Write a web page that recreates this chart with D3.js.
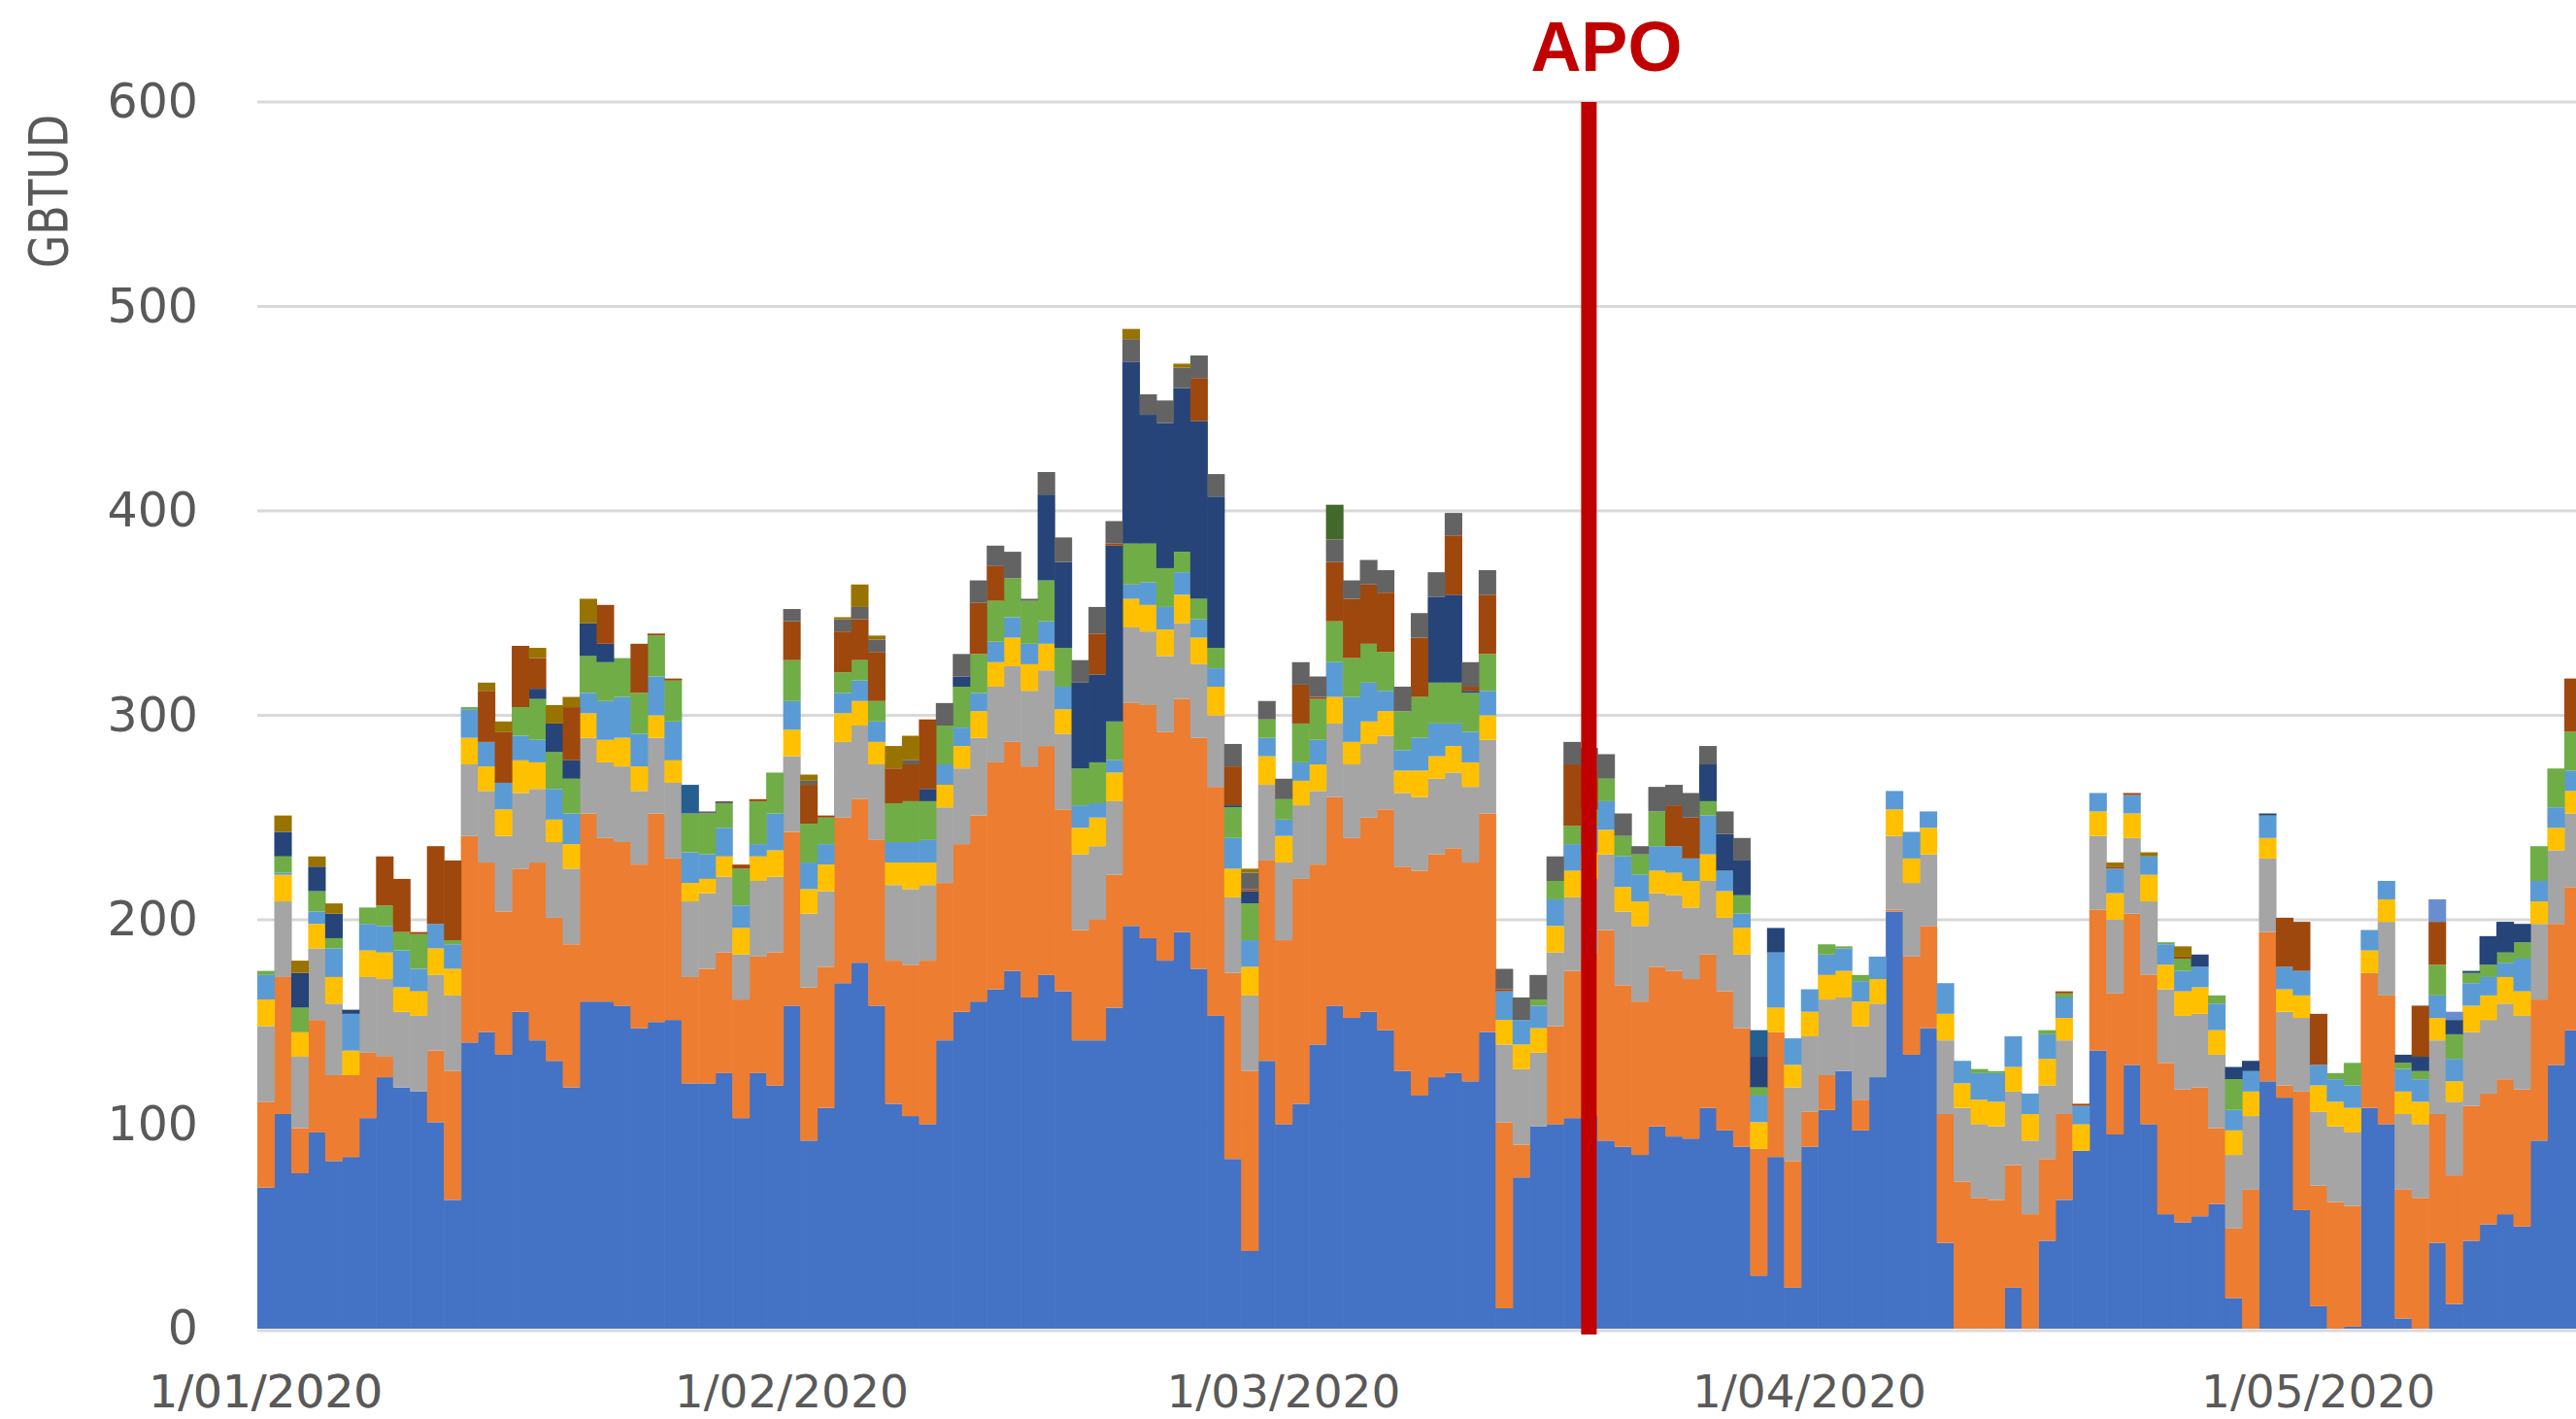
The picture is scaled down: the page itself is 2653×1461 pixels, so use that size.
<!DOCTYPE html>
<html>
<head>
<meta charset="utf-8">
<script src="https://cdn.jsdelivr.net/npm/d3@7"></script>
<style>
  body { margin: 0; background: #fff; }
  svg { display: block; }
</style>
</head>
<body>
<svg id="chart" width="2653" height="1461"></svg>
<script>
// Daily gas flows (GBTUD) from 1/01/2020, one array per stacked series, bottom to top.
var blue = [
  69,105,76,96,82,84,103,123,118,116,
  101,63,140,145,134,155,141,131,118,160,
  160,158,147,150,151,120,120,125,103,125,
  119,158,92,108,169,179,158,110,104,100,
  141,155,160,166,175,162,173,165,141,141,
  157,197,191,180,194,176,153,83,38,131,
  100,110,139,158,152,155,146,126,114,123,
  125,121,145,10,74,99,100,103,104,92,
  89,85,99,94,93,108,97,89,26,84,
  20,89,107,126,97,123,204,134,147,42,
  0,0,0,20,0,43,63,87,136,95,
  129,100,56,52,55,61,15,0,121,113,
  58,11,0,1,108,100,5,0,42,12,
  43,51,56,50,92,129,146];
var orange = [
  42,67,22,55,42,40,32,10,0,0,
  35,63,101,83,70,70,87,70,70,92,
  80,80,80,102,79,52,56,59,58,57,
  65,85,75,69,81,80,81,70,74,80,
  77,82,91,111,112,113,112,89,54,59,
  65,109,114,112,114,113,112,91,88,98,
  90,110,88,102,88,95,108,100,110,109,
  110,107,107,91,16,0,48,72,80,103,
  79,75,78,81,78,75,68,58,62,61,
  62,17,17,0,15,0,1,48,50,63,
  72,64,63,60,56,40,42,0,69,69,
  74,73,74,65,63,37,34,68,73,6,
  58,59,62,59,66,63,63,64,63,63,
  66,64,66,67,69,69,70];
var gray = [
  37,37,35,35,35,0,37,38,37,37,
  37,37,35,35,37,37,36,37,37,37,
  37,37,36,37,37,37,37,37,22,37,
  37,37,36,37,37,36,37,37,37,37,
  37,37,38,37,37,37,37,37,37,36,
  36,37,36,37,37,36,35,37,37,37,
  38,36,36,36,36,36,36,36,36,37,
  37,37,36,38,37,36,36,36,36,37,
  36,37,36,37,35,36,36,36,0,0,
  36,37,37,36,36,36,36,36,35,36,
  36,36,36,36,36,36,36,0,36,36,
  37,36,36,36,36,36,36,36,36,36,
  36,36,37,36,0,36,37,36,36,36,
  36,36,37,36,37,36,36];
var gold = [
  13,13,12,12,13,12,13,13,12,12,
  13,13,13,12,13,16,13,11,12,12,
  11,14,12,11,11,9,7,10,13,12,
  13,13,12,13,14,12,11,11,13,11,
  11,11,13,12,14,13,13,12,13,14,
  14,14,13,13,14,13,14,14,14,14,
  13,12,13,13,11,11,12,11,13,11,
  13,12,12,12,12,12,13,13,13,12,
  12,12,11,11,13,13,13,13,13,12,
  11,12,12,13,12,12,13,12,13,13,
  12,12,12,12,13,13,11,13,12,13,
  12,13,12,12,13,12,12,12,10,11,
  11,13,12,12,11,11,11,11,11,10,
  13,12,13,12,11,11,11];
var lightBlue = [
  12,1,0,6,14,18,13,13,18,11,
  12,12,14,12,13,12,11,15,15,10,
  19,20,16,19,19,15,12,14,11,6,
  18,14,13,10,10,10,10,10,10,11,
  10,9,9,10,10,10,11,11,11,7,
  6,7,11,11,11,9,9,15,13,9,
  8,9,12,17,22,19,10,10,16,16,
  11,15,12,14,12,11,13,13,13,14,
  15,13,12,13,11,19,10,7,13,27,
  13,11,10,11,10,11,9,13,8,15,
  11,13,14,15,10,12,10,9,9,12,
  9,9,10,10,10,13,10,10,11,11,
  12,10,11,11,10,9,11,11,11,11,
  11,9,7,16,10,10,10];
var green = [
  2,8,12,10,5,0,8,10,9,17,
  0,2,1,0,0,14,20,18,17,18,
  19,19,20,20,20,19,20,12,18,21,
  20,20,19,13,10,10,10,19,20,19,
  19,20,19,20,19,21,20,19,18,20,
  19,20,19,19,10,10,10,15,18,9,
  10,19,20,20,19,19,19,19,20,20,
  20,19,18,0,0,3,9,9,8,11,
  10,10,17,0,0,7,0,9,4,0,
  0,0,5,1,3,0,0,0,0,0,
  0,2,1,0,0,2,2,0,0,0,
  0,0,1,6,0,4,15,0,0,0,
  0,0,3,11,0,0,3,4,15,12,
  5,6,5,8,17,19,19];
var navy = [
  0,12,17,12,12,2,0,0,0,0,
  0,0,0,0,0,0,5,14,9,16,
  9,0,0,0,0,0,0,0,0,0,
  0,0,0,0,0,0,0,0,0,6,
  0,5,0,0,0,0,42,42,42,43,
  86,89,63,71,80,87,74,1,6,0,
  0,0,0,0,0,0,0,0,0,42,
  43,1,0,0,0,0,0,0,0,0,
  0,0,0,0,0,18,18,17,15,12,
  0,0,0,0,0,0,0,0,0,0,
  0,0,0,0,0,0,0,0,0,0,
  0,0,0,0,6,0,6,5,1,0,
  0,0,0,0,0,0,4,7,0,7,
  1,14,15,9,0,0,0];
var brown = [
  0,0,0,0,0,0,0,24,26,1,
  38,39,0,25,25,30,15,0,26,0,
  19,0,24,1,1,0,0,0,2,1,
  0,19,19,1,20,20,24,17,18,34,
  0,0,25,17,0,0,0,0,0,20,
  1,0,0,0,0,21,0,19,1,0,
  0,19,1,29,29,29,29,0,29,0,
  29,2,29,1,0,0,0,30,20,0,
  0,0,0,20,20,0,0,0,0,0,
  0,0,0,0,0,0,0,0,0,0,
  0,0,0,0,0,0,1,1,0,1,
  1,0,0,1,0,0,0,0,0,24,
  24,25,0,0,0,0,0,25,21,0,
  0,0,0,0,0,0,26];
var darkGray = [
  0,0,0,0,0,0,0,0,0,0,
  0,0,0,0,0,0,0,0,0,0,
  0,0,0,0,0,0,1,1,0,0,
  0,6,2,0,6,6,6,0,2,0,
  11,11,11,10,13,1,11,12,11,13,
  11,11,10,11,10,11,11,11,8,9,
  10,11,10,11,9,12,11,12,12,12,
  11,12,12,10,11,12,12,11,10,12,
  11,4,12,10,12,9,11,11,0,0,
  0,0,0,0,0,0,0,0,0,0,
  0,0,0,0,0,0,0,0,0,0,
  0,0,0,0,0,0,0,0,0,0,
  0,0,0,0,0,0,0,0,0,0,
  0,0,0,0,0,0,0];
var darkGold = [
  0,8,6,5,5,0,0,0,0,0,
  0,0,0,4,5,0,5,9,5,12,
  0,0,0,0,0,0,0,0,0,0,
  0,0,3,0,1,11,2,11,12,0,
  0,0,0,0,0,0,0,0,0,0,
  0,5,0,0,2,0,0,0,2,0,
  0,0,0,0,0,0,0,0,0,0,
  0,0,0,0,0,0,0,0,0,0,
  0,0,0,0,0,0,0,0,0,0,
  0,0,0,0,0,0,0,0,0,0,
  0,0,0,0,0,0,0,0,0,2,
  0,2,0,5,0,0,0,0,0,0,
  0,0,0,0,0,0,0,0,0,0,
  0,0,0,0,0,0,0];
var steelBlue = [
  0,0,0,0,0,0,0,0,0,0,
  0,0,0,0,0,0,0,0,0,0,
  0,0,0,0,0,14,0,0,0,0,
  0,0,0,0,0,0,0,0,0,0,
  0,0,0,0,0,0,0,0,0,0,
  0,0,0,0,0,0,0,0,0,0,
  0,0,0,0,0,0,0,0,0,0,
  0,0,0,0,0,0,0,0,0,0,
  0,0,0,0,0,0,0,0,13,0,
  0,0,0,0,0,0,0,0,0,0,
  0,0,0,0,0,0,0,0,0,0,
  0,0,0,0,0,0,0,0,0,0,
  0,0,0,0,0,0,0,0,0,0,
  0,0,0,0,0,0,0];
var darkGreen = [
  0,0,0,0,0,0,0,0,0,0,
  0,0,0,0,0,0,0,0,0,0,
  0,0,0,0,0,0,0,0,0,0,
  0,0,0,0,0,0,0,0,0,0,
  0,0,0,0,0,0,0,0,0,0,
  0,0,0,0,0,0,0,0,0,0,
  0,0,0,17,0,0,0,0,0,0,
  0,0,0,0,0,0,0,0,0,0,
  0,0,0,0,0,0,0,0,0,0,
  0,0,0,0,0,0,0,0,0,0,
  0,0,0,0,0,0,0,0,0,0,
  0,0,0,0,0,0,0,0,0,0,
  0,0,0,0,0,0,0,0,0,0,
  0,0,0,0,0,0,0];
var paleBlue = [
  0,0,0,0,0,0,0,0,0,0,
  0,0,0,0,0,0,0,0,0,0,
  0,0,0,0,0,0,0,0,0,0,
  0,0,0,0,0,0,0,0,0,0,
  0,0,0,0,0,0,0,0,0,0,
  0,0,0,0,0,0,0,0,0,0,
  0,0,0,0,0,0,0,0,0,0,
  0,0,0,0,0,0,0,0,0,0,
  0,0,0,0,0,0,0,0,0,0,
  0,0,0,0,0,0,0,0,0,0,
  0,0,0,0,0,0,0,0,0,0,
  0,0,0,0,0,0,0,0,0,0,
  0,0,0,0,0,0,0,0,11,4,
  0,0,0,0,0,0,0];

var seriesKeys   = ["blue", "orange", "gray", "gold", "lightBlue", "green", "navy",
                    "brown", "darkGray", "darkGold", "steelBlue", "darkGreen", "paleBlue"];
var seriesValues = [blue, orange, gray, gold, lightBlue, green, navy,
                    brown, darkGray, darkGold, steelBlue, darkGreen, paleBlue];
var seriesColors = ["#4472C4", "#ED7D31", "#A5A5A5", "#FFC000", "#5B9BD5", "#70AD47", "#264478",
                    "#9E480E", "#636363", "#997300", "#255E91", "#43682B", "#698ED0"];

var yTicks   = [0, 100, 200, 300, 400, 500, 600];
var yLabel   = "GBTUD";
var apoDay   = "2020-03-19";
var apoLabel = "APO";

var W = 2653, H = 1461;
var plotLeft = 265, dayWidth = 17.47;
var fmtKey   = d3.timeFormat("%Y-%m-%d");
var fmtTick  = d3.timeFormat("%-d/%m/%Y");

// one category per day, starting 1 Jan 2020
var days = d3.timeDay.range(new Date(2020, 0, 1), new Date(2020, 0, 1 + blue.length));
var rows = days.map(function(d, i) {
  var r = {key: fmtKey(d), date: d};
  seriesKeys.forEach(function(k, j) { r[k] = seriesValues[j][i]; });
  return r;
});

var x = d3.scaleBand()
          .domain(rows.map(function(r) { return r.key; }))
          .range([plotLeft, plotLeft + rows.length * dayWidth])
          .padding(0);
var y = d3.scaleLinear().domain([0, 600]).range([1368, 105]);

var svg = d3.select("#chart");
svg.append("rect").attr("width", W).attr("height", H).attr("fill", "#fff");

// gridlines
svg.append("g").selectAll("line")
   .data(yTicks.filter(function(t) { return t > 0; }))
   .enter().append("line")
   .attr("x1", plotLeft).attr("x2", W)
   .attr("y1", function(t) { return y(t); })
   .attr("y2", function(t) { return y(t); })
   .attr("stroke", "#D9D9D9").attr("stroke-width", 3);

// stacked columns
var stacked = d3.stack().keys(seriesKeys)(rows);
svg.append("g").selectAll("g")
   .data(stacked)
   .enter().append("g")
   .attr("fill", function(s, i) { return seriesColors[i]; })
   .selectAll("rect")
   .data(function(s) { return s.filter(function(d) { return d[1] > d[0]; }); })
   .enter().append("rect")
   .attr("x", function(d) { return x(d.data.key); })
   .attr("width", x.bandwidth() + 0.6)
   .attr("y", function(d) { return y(d[1]); })
   .attr("height", function(d) { return y(d[0]) - y(d[1]); });

// baseline
svg.append("line")
   .attr("x1", plotLeft).attr("x2", W)
   .attr("y1", y(0) + 2).attr("y2", y(0) + 2)
   .attr("stroke", "#D9D9D9").attr("stroke-width", 3);

// y axis labels
var yAxis = svg.append("g")
   .attr("transform", "translate(" + plotLeft + ",0)")
   .call(d3.axisLeft(y).tickValues(yTicks).tickSize(0).tickPadding(61));
yAxis.select(".domain").remove();
yAxis.selectAll("text")
     .attr("fill", "#595959")
     .style("font", "49px 'DejaVu Sans'");

svg.append("text")
   .attr("text-anchor", "middle")
   .attr("transform", "translate(69,197)rotate(-90)")
   .attr("fill", "#595959")
   .attr("textLength", 158)
   .attr("lengthAdjust", "spacingAndGlyphs")
   .style("font", "56px 'Liberation Sans Narrow', 'DejaVu Sans'")
   .text(yLabel);

// x axis: first day of each month
var monthKeys = d3.timeMonth.range(days[0], new Date(2020, 0, 1 + blue.length)).map(fmtKey);
monthKeys.unshift(fmtKey(days[0]));
var xAxis = svg.append("g")
   .attr("transform", "translate(0," + y(0) + ")")
   .call(d3.axisBottom(x)
           .tickValues(monthKeys)
           .tickSize(0).tickPadding(48)
           .tickFormat(function(k) { return fmtTick(new Date(k + "T00:00")); }));
xAxis.select(".domain").remove();
xAxis.selectAll("text")
     .attr("fill", "#595959")
     .style("font", "47px 'DejaVu Sans'");

// APO marker
var apoX = x(apoDay) + x.bandwidth() / 2;
svg.append("rect")
   .attr("x", apoX - 8).attr("width", 16)
   .attr("y", y(600)).attr("height", y(0) + 6 - y(600))
   .attr("fill", "#C00000");
svg.append("text")
   .attr("x", apoX + 18).attr("y", 73)
   .attr("text-anchor", "middle")
   .attr("fill", "#C00000")
   .style("font", "bold 72px 'Liberation Sans'")
   .text(apoLabel);
</script>
</body>
</html>
